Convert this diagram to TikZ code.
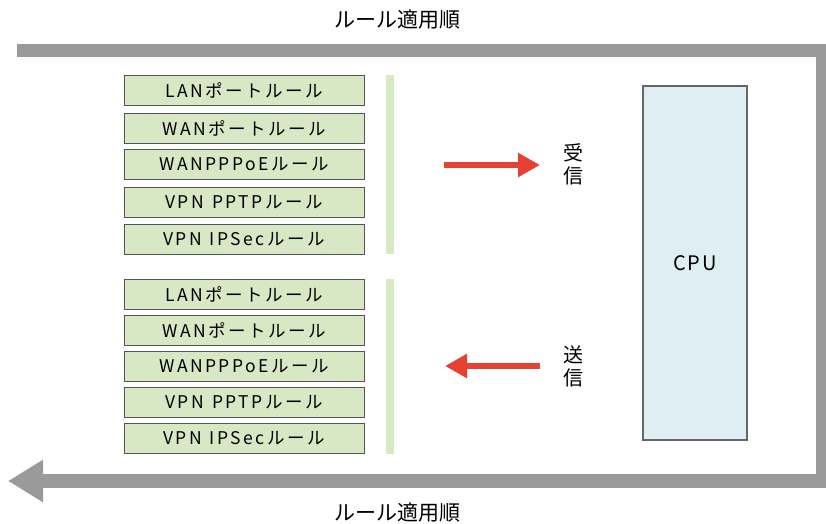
\documentclass[tikz,border=0pt]{standalone}
\usepackage{fontspec}
\setmainfont{Noto Sans CJK JP}
\usetikzlibrary{arrows.meta}
\definecolor{bargray}{HTML}{9A9A9A}
\definecolor{rulefill}{HTML}{D9E8C4}
\definecolor{ruledraw}{HTML}{555555}
\definecolor{cpufill}{HTML}{DFEEF3}
\definecolor{cpudraw}{HTML}{62676A}
\definecolor{flowred}{HTML}{E54234}
\newcommand{\wsp}{\hspace{8pt}}
\tikzset{
  rulebox/.style={draw=ruledraw, line width=0.9pt, fill=rulefill, minimum width=240pt, minimum height=30pt, inner sep=0pt, font=\fontsize{17.5}{17.5}\selectfont\addfontfeatures{LetterSpace=14}},
  groupbar/.style={fill=rulefill, draw=none},
  cpubox/.style={draw=cpudraw, line width=1.3pt, fill=cpufill, minimum width=104pt, minimum height=354pt, inner sep=0pt, font=\fontsize{20}{20}\selectfont\addfontfeatures{LetterSpace=10}},
  title/.style={font=\fontsize{21}{21}\selectfont, inner sep=0pt},
  dirlabel/.style={font=\fontsize{20}{23}\selectfont, align=center, inner sep=0pt},
  orderline/.style={draw=bargray, line width=13.5pt, line join=miter, -{Triangle[length=35pt,width=40pt]}},
  flow/.style={draw=flowred, line width=6pt, -{Triangle[length=22pt,width=23pt]}}
}
\begin{document}
\begin{tikzpicture}[x=1pt,y=-1pt]
\useasboundingbox (0,0) rectangle (826,523);
% order path
\coordinate (ostart) at (17,50.5);
\coordinate (otr) at (822.5,50.5);
\coordinate (obr) at (822.5,481);
\coordinate (oend) at (8,481);
\draw[orderline] (ostart) -- (otr) -- (obr) -- (oend);
\node[title] (ttop) at (397,20) {ルール適用順};
\node[title] (tbot) at (397,513) {ルール適用順};
% group 1
\node[rulebox] (r1) at (244,90.5) {LANポートルール};
\node[rulebox] (r2) at (244,128) {WANポートルール};
\node[rulebox] (r3) at (244,164) {WANPPPoEルール};
\node[rulebox] (r4) at (244,202) {VPN\wsp PPTPルール};
\node[rulebox] (r5) at (244,239) {VPN\wsp IPSecルール};
\fill[groupbar] (386,75) rectangle (394,254);
% group 2
\node[rulebox] (s1) at (244,294.5) {LANポートルール};
\node[rulebox] (s2) at (244,330) {WANポートルール};
\node[rulebox] (s3) at (244,366) {WANPPPoEルール};
\node[rulebox] (s4) at (244,402) {VPN\wsp PPTPルール};
\node[rulebox] (s5) at (244,438) {VPN\wsp IPSecルール};
\fill[groupbar] (386,279) rectangle (394,454);
% CPU
\node[cpubox] (cpu) at (695,263) {CPU};
% flows
\coordinate (rxs) at (444,165);
\coordinate (rxe) at (540,165);
\draw[flow] (rxs) -- (rxe);
\node[dirlabel] (rx) at (573,164) {受\\信};
\coordinate (txs) at (540,366);
\coordinate (txe) at (445,366);
\draw[flow] (txs) -- (txe);
\node[dirlabel] (tx) at (573,366) {送\\信};
\end{tikzpicture}
\end{document}
